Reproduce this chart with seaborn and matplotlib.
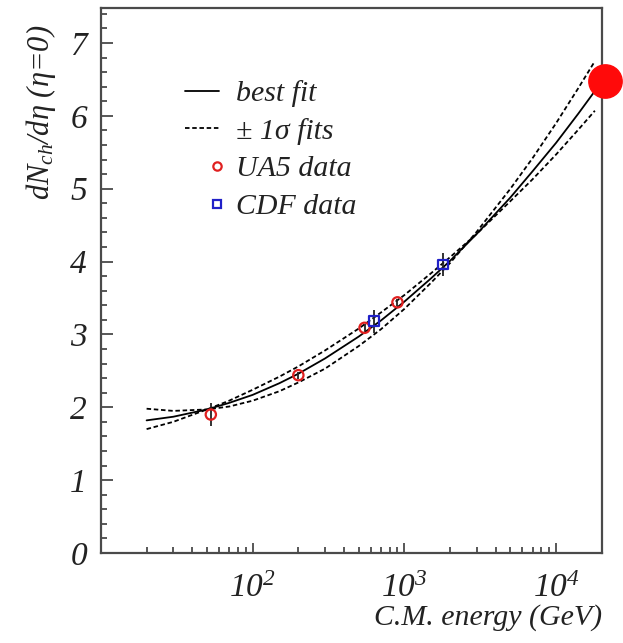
import numpy as np
import pandas as pd
import matplotlib
matplotlib.use("Agg")
import matplotlib.pyplot as plt
from matplotlib.lines import Line2D
from matplotlib.legend_handler import HandlerLine2D
from matplotlib.ticker import FixedLocator, MultipleLocator, LogFormatterMathtext, NullFormatter
import seaborn as sns

# ---- data ----
fit_energy = [20, 30, 50, 70, 100, 150, 200, 300, 500, 700, 1000, 1500,
              2000, 3000, 5000, 7000, 10000, 14000, 18000]
best_fit = [1.82, 1.87, 1.97, 2.06, 2.17, 2.33, 2.46, 2.67, 2.97, 3.19, 3.45,
            3.77, 4.01, 4.38, 4.88, 5.24, 5.63, 6.03, 6.34]
sigma_fit_a = [1.98, 1.95, 1.97, 2.01, 2.09, 2.22, 2.34, 2.53, 2.84, 3.07, 3.35,
               3.71, 3.98, 4.41, 5.00, 5.42, 5.90, 6.38, 6.75]
sigma_fit_b = [1.70, 1.80, 1.97, 2.09, 2.24, 2.42, 2.56, 2.78, 3.08, 3.30, 3.54,
               3.84, 4.06, 4.38, 4.83, 5.13, 5.47, 5.81, 6.07]

ua5_energy = [53, 200, 546, 900]
ua5_value = [1.90, 2.44, 3.09, 3.44]
ua5_error = [0.16, 0.05, 0.05, 0.05]

cdf_energy = [630, 1800]
cdf_value = [3.18, 3.96]
cdf_error = [0.16, 0.16]

lhc_energy = [21000]
lhc_value = [6.48]

legend_labels = ["best fit", "\u00b1 1\u03c3 fits", "UA5 data", "CDF data"]
x_major = [100, 1000, 10000]
x_minor = [20, 30, 40, 50, 60, 70, 80, 90, 200, 300, 400, 500, 600, 700, 800, 900,
           2000, 3000, 4000, 5000, 6000, 7000, 8000, 9000]

# ---- style ----
sns.set_theme(style="white")
plt.rcParams['font.family'] = ['Liberation Serif', 'DejaVu Serif']
plt.rcParams['mathtext.fontset'] = 'custom'
plt.rcParams['mathtext.rm'] = 'Liberation Serif:italic'
plt.rcParams['mathtext.it'] = 'Liberation Serif:italic'
plt.rcParams['mathtext.bf'] = 'Liberation Serif:italic'

spine_col = '#4a4a4a'
text_col = '#222222'
dash = (0, (2.5, 1.5))

fig = plt.figure(figsize=(6.23, 6.43), dpi=100)
ax = fig.add_axes([0.162, 0.14, 0.966 - 0.162, 0.9876 - 0.14])

curves = pd.DataFrame({"energy": fit_energy, "best": best_fit,
                       "a": sigma_fit_a, "b": sigma_fit_b})
sns.lineplot(data=curves, x="energy", y="best", ax=ax, color='black', lw=1.3)
sns.lineplot(data=curves, x="energy", y="a", ax=ax, color='black', lw=1.3, linestyle=dash)
sns.lineplot(data=curves, x="energy", y="b", ax=ax, color='black', lw=1.3, linestyle=dash)

ax.errorbar(ua5_energy, ua5_value, yerr=ua5_error, fmt='none', ecolor=text_col,
            elinewidth=1.3, zorder=3)
ax.errorbar(cdf_energy, cdf_value, yerr=cdf_error, fmt='none', ecolor=text_col,
            elinewidth=1.3, zorder=3)
ua5 = pd.DataFrame({"energy": ua5_energy, "value": ua5_value})
cdf = pd.DataFrame({"energy": cdf_energy, "value": cdf_value})
sns.scatterplot(data=ua5, x="energy", y="value", ax=ax, marker='o', s=55,
                facecolors='none', edgecolor='#e02020', linewidth=1.6, zorder=4)
sns.scatterplot(data=cdf, x="energy", y="value", ax=ax, marker='s', s=50,
                facecolors='none', edgecolor='#2020c8', linewidth=1.6, zorder=4)
ax.plot(lhc_energy, lhc_value, 'o', color='#ff0a0a', markersize=24, clip_on=False,
        zorder=6)

ax.set_xscale('log')
ax.set_xlim(10, 20000)
ax.set_ylim(0, 7.48)

ax.xaxis.set_major_locator(FixedLocator(x_major))
ax.xaxis.set_minor_locator(FixedLocator(x_minor))
ax.xaxis.set_major_formatter(LogFormatterMathtext())
ax.xaxis.set_minor_formatter(NullFormatter())
ax.yaxis.set_major_locator(MultipleLocator(1))
ax.yaxis.set_minor_locator(MultipleLocator(0.2))

for s in ax.spines.values():
    s.set_color(spine_col)
    s.set_linewidth(1.6)

ax.tick_params(axis='both', which='both', direction='in', color=spine_col,
               width=1.3, top=False, right=False, bottom=True, left=True)
ax.tick_params(axis='y', which='major', length=8.6, pad=10, labelsize=24)
ax.tick_params(axis='y', which='minor', length=4.3)
ax.tick_params(axis='x', which='major', length=7, pad=15, labelsize=24)
ax.tick_params(axis='x', which='minor', length=4.5)
for lab in ax.get_yticklabels() + ax.get_xticklabels():
    lab.set_fontstyle('italic')
    lab.set_color(text_col)

ax.set_xlabel("C.M. energy (GeV)", loc='right', fontsize=21.5, fontstyle='italic',
              color=text_col, labelpad=0)
ax.set_ylabel("$dN_{ch}/d\\eta$ (\u03b7=0)", fontsize=22, fontstyle='italic',
              color=text_col)
ax.yaxis.set_label_coords((58 - 101) / 501, (553 - 112) / 545)


class RightMarkerHandler(HandlerLine2D):
    """Legend marker drawn near the right end of the handle box."""
    def get_numpoints(self, legend):
        return 2

    def get_xdata(self, legend, xdescent, ydescent, width, height, fontsize):
        xm = np.array([-xdescent + 0.94 * width])
        return xm, xm


handles = [
    Line2D([], [], color='black', lw=1.3),
    Line2D([], [], color='black', lw=1.3, linestyle=dash),
    Line2D([], [], linestyle='none', marker='o', markersize=6, markerfacecolor='none',
           markeredgecolor='#e02020', markeredgewidth=1.6),
    Line2D([], [], linestyle='none', marker='s', markersize=6, markerfacecolor='none',
           markeredgecolor='#2020c8', markeredgewidth=1.6),
]
leg = ax.legend(handles, legend_labels, loc='upper left',
                bbox_to_anchor=((185 - 101) / 501, (553 - 80) / 545),
                frameon=False, fontsize=21.5, borderpad=0, borderaxespad=0,
                handlelength=1.15, handletextpad=0.55, labelspacing=0.36,
                handler_map={handles[2]: RightMarkerHandler(),
                             handles[3]: RightMarkerHandler()})
for t in leg.get_texts():
    t.set_fontstyle('italic')
    t.set_color(text_col)

fig.savefig("out.png", dpi=100)
